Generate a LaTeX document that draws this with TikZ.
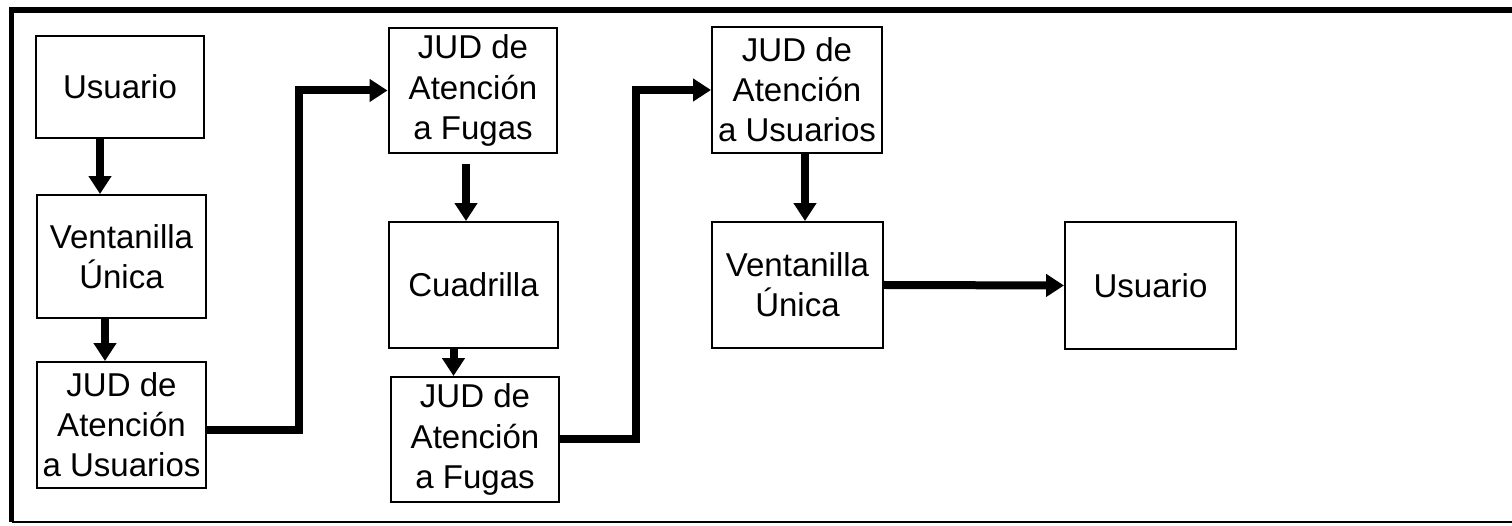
\documentclass[tikz,border=0pt]{standalone}
\usepackage{fontspec}
\setmainfont{Liberation Sans}
\usetikzlibrary{arrows.meta}
\begin{document}
\begin{tikzpicture}[x=0.02cm, y=-0.02cm, font=\fontsize{18.8}{22.8}\selectfont, line join=miter,
	caja/.style={draw, line width=0.04cm, align=center, inner sep=0pt, minimum width=3.38cm},
	flecha/.style={line width=0.16cm, -{Triangle[length=0.36cm,width=0.44cm]}}]
	\useasboundingbox (0,0) rectangle (1512,526);
	% marco
	\draw[line width=0.11cm] (1530,10)--(11.5,10)--(11.5,522);
	\draw[line width=0.04cm] (11.5,522)--(1530,522);
	% cajas
	\node[caja, minimum height=2.04cm] (usu1) at (120,87) {Usuario};
	\node[caja, minimum height=2.46cm] (ven1) at (121.5,256.5) {Ventanilla\\Única};
	\node[caja, minimum height=2.52cm] (jau1) at (121.5,425) {JUD de\\Atención\\a Usuarios};
	\node[caja, minimum height=2.5cm] (jaf1) at (473,90.5) {JUD de\\Atención\\a Fugas};
	\node[caja, minimum height=2.52cm] (cuad) at (473.5,285) {Cuadrilla};
	\node[caja, minimum height=2.5cm] (jaf2) at (475,439.5) {JUD de\\Atención\\a Fugas};
	\node[caja, minimum height=2.52cm, minimum width=3.4cm] (jau2) at (797,90) {JUD de\\Atención\\a Usuarios};
	\node[caja, minimum height=2.52cm, minimum width=3.42cm] (ven2) at (797.5,285) {Ventanilla\\Única};
	\node[caja, minimum height=2.54cm, minimum width=3.42cm] (usu2) at (1150.5,285.5) {Usuario};
	% flechas
	\coordinate (k1) at ([xshift=-0.4cm]usu1.south);
	\draw[flecha] (k1)--(k1 |- ven1.north);
	\coordinate (k2) at ([xshift=-0.33cm]ven1.south);
	\draw[flecha] (k2)--(k2 |- jau1.north);
	\draw[flecha] ([yshift=-0.1cm]jau1.east)--++(92,0)|-(jaf1.west);
	\coordinate (k3) at ([xshift=-0.14cm]jaf1.south);
	\draw[flecha, shorten <=0.2cm] (k3)--(k3 |- cuad.north);
	\coordinate (k4) at ([xshift=-0.4cm]cuad.south);
	\draw[flecha] (k4)--(k4 |- jaf2.north);
	\draw[flecha] (jaf2.east)--++(76,0)|-(jau2.west);
	\coordinate (k5) at ([xshift=0.16cm]jau2.south);
	\draw[flecha] (k5)--(k5 |- ven2.north);
	\draw[flecha] (ven2.east)--(usu2.west);
\end{tikzpicture}
\end{document}
